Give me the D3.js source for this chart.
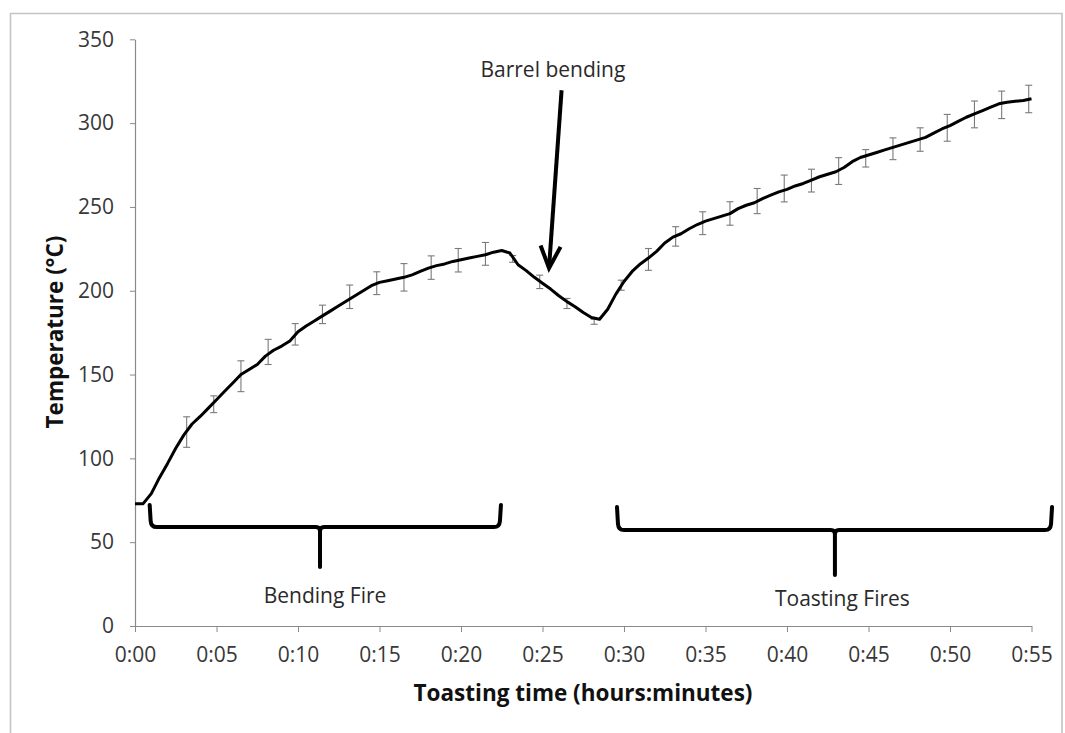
<!DOCTYPE html>
<html><head><meta charset="utf-8">
<script src="https://cdn.jsdelivr.net/npm/d3@7"></script>
<style>html,body{margin:0;padding:0;background:#fff;}</style>
</head><body>
<svg id="chart" width="1065" height="733"></svg>
<script>
// ---- data (time in minutes, temperature in °C) ----
const lineTimes = [0,0.5,1,1.5,2,2.5,3,3.5,4,4.5,5,5.5,6,6.5,7,7.5,8,8.5,9,9.5,10,10.5,11,11.5,12,12.5,13,13.5,14,14.5,15,15.5,16,16.5,17,17.5,18,18.5,19,19.5,20,20.5,21,21.5,22,22.5,23,23.5,24,24.5,25,25.5,26,26.5,27,27.5,28,28.5,29,29.5,30,30.5,31,31.5,32,32.5,33,33.5,34,34.5,35,35.5,36,36.5,37,37.5,38,38.5,39,39.5,40,40.5,41,41.5,42,42.5,43,43.5,44,44.5,45,45.5,46,46.5,47,47.5,48,48.5,49,49.5,50,50.5,51,51.5,52,52.5,53,53.5,54,54.5,55];
const lineTemps = [73,73,79,88.5,97,106,114,120.5,125,130,135,140,145,150,153,156,161,164.5,167,170,175.5,179,182,185,188,191,194,197,200,203,205,206,207,208,209.5,211.5,213.5,215,216,217.5,218.5,219.5,220.5,221.5,223,224,222.5,215.5,212,208,204.5,201,197,193.5,190.5,187,184,183,189,198,205.5,211.5,216,219.5,223.5,228.5,232,234,237,239.5,241.5,243,244.5,246,249,251,252.5,255,257,259,260.5,262.5,264,266,268,269.5,271,273.5,277,279.5,281,282.5,284,285.5,287,288.5,290,291.5,294,296.5,298.5,301,303.5,305.5,307.5,309.5,311.5,312.5,313,313.5,314.5];

const errTimes = [3.17,4.83,6.5,8.17,9.83,11.5,13.17,14.83,16.5,18.17,19.83,21.5,23.17,24.83,26.5,28.17,29.83,31.5,33.17,34.83,36.5,38.17,39.83,41.5,43.17,44.83,46.5,48.17,49.83,51.5,53.17,54.83];
const errMeans = [115.7,132.3,149,163.5,174,185.9,196.4,204.5,208,213.8,218.2,222,219,205.3,192.4,181.5,203.3,218.7,232.4,240.3,246.1,253.5,261,265.7,271.4,279,284.7,290.2,297.2,305.2,310.9,314.4];
const errSD = [9.1,5,9.2,7.5,6.4,5.5,7,6.8,8.2,7,7,6.8,2,4,3,1.5,3,6.5,5.8,6.8,7,7.5,8,6.8,8,5.2,6.5,7,8,8,8.2,8.2];

const xTickValues = [0,5,10,15,20,25,30,35,40,45,50,55];
const xTickLabels = ["0:00","0:05","0:10","0:15","0:20","0:25","0:30","0:35","0:40","0:45","0:50","0:55"];
const yTickValues = [0,50,100,150,200,250,300,350];

// annotations (in data units)
const bracketLabels = ["Bending Fire","Toasting Fires"];
const bracketStart = [0.9, 29.57];
const bracketEnd = [22.45, 56.26];
const bracketMid = [11.35, 42.94];
const bracketTop = [72.2, 71];
const bracketLevel = [59, 57.2];
const bracketStem = [35.2, 30.4];
const bracketTextX = [11.66, 43.4];
const bracketTextY = [13.7, 11.9];
const arrowLabel = "Barrel bending";
const arrowFrom = [26.17, 319.6];
const arrowTo = [25.4, 213.5];
const arrowLabelPos = [25.64, 327.4];

// ---- drawing ----
const svg = d3.select("#chart");
svg.append("rect").attr("width",1065).attr("height",733).attr("fill","#fff");
const FONT = "'Open Sans', 'Liberation Sans', sans-serif";

// outer chart border
svg.append("path")
  .attr("d","M10.5,733 L10.5,13.5 L1062,13.5 L1062,733")
  .attr("fill","none").attr("stroke","#c4c4c4").attr("stroke-width",1.6);

const x = d3.scaleLinear().domain([0,55]).range([135,1031.5]);
const y = d3.scaleLinear().domain([0,350]).range([626,39.3]);

// y axis
const yAxis = svg.append("g").attr("transform","translate(135,0)")
  .call(d3.axisLeft(y).tickValues(yTickValues).tickSize(5).tickSizeOuter(0).tickPadding(16));
// x axis
const xAxis = svg.append("g").attr("transform","translate(0,626)")
  .call(d3.axisBottom(x).tickValues(xTickValues).tickSize(6).tickSizeOuter(0).tickPadding(15)
    .tickFormat((d,i)=>xTickLabels[i]));
[xAxis,yAxis].forEach(g=>{
  g.select(".domain").attr("stroke","#8a8a8a").attr("stroke-width",1.2);
  g.selectAll(".tick line").attr("stroke","#8a8a8a").attr("stroke-width",1);
  g.selectAll(".tick text").attr("font-family",FONT).attr("font-size",21).attr("fill","#383838");
});

// error bars
const eb = svg.append("g").attr("stroke","#7a7a7a").attr("stroke-width",1.1).attr("fill","none");
errTimes.forEach((t,i)=>{
  const cx = x(t), y1 = y(errMeans[i]-errSD[i]), y2 = y(errMeans[i]+errSD[i]);
  eb.append("line").attr("x1",cx).attr("x2",cx).attr("y1",y1).attr("y2",y2);
  eb.append("line").attr("x1",cx-3.5).attr("x2",cx+3.5).attr("y1",y1).attr("y2",y1);
  eb.append("line").attr("x1",cx-3.5).attr("x2",cx+3.5).attr("y1",y2).attr("y2",y2);
});

// main line
const pts = lineTimes.map((t,i)=>[t,lineTemps[i]]);
svg.append("path").datum(pts)
  .attr("d", d3.line().x(d=>x(d[0])).y(d=>y(d[1])))
  .attr("fill","none").attr("stroke","#000").attr("stroke-width",3).attr("stroke-linejoin","round");

// brackets
bracketLabels.forEach((lab,i)=>{
  const x0 = x(bracketStart[i]), x1 = x(bracketEnd[i]), xm = x(bracketMid[i]);
  const yt = y(bracketTop[i]), yh = y(bracketLevel[i]), yb = y(bracketStem[i]);
  const r = 6, r2 = 4;
  const d = `M${x0},${yt} L${x0+1},${yh-r} Q${x0+1.5},${yh} ${x0+r+1},${yh} L${xm-r2},${yh} Q${xm},${yh} ${xm},${yh+r2} L${xm},${yb}`
          + ` M${xm},${yh+r2} Q${xm},${yh} ${xm+r2},${yh} L${x1-r-1},${yh} Q${x1-1.5},${yh} ${x1-1},${yh-r} L${x1},${yt}`;
  svg.append("path").attr("d",d).attr("fill","none").attr("stroke","#000")
    .attr("stroke-width",4).attr("stroke-linecap","round").attr("stroke-linejoin","round");
  svg.append("text").attr("x",x(bracketTextX[i])).attr("y",y(bracketTextY[i]))
    .attr("text-anchor","middle").attr("font-family",FONT).attr("font-size",21)
    .attr("fill","#2a2a2a").text(lab);
});

// arrow annotation
const ax0 = x(arrowFrom[0]), ay0 = y(arrowFrom[1]), ax1 = x(arrowTo[0]), ay1 = y(arrowTo[1]);
const ang = Math.atan2(ay1-ay0, ax1-ax0);
const hl = 22, hw = 10;
const bx = ax1 - hl*Math.cos(ang), by = ay1 - hl*Math.sin(ang);
svg.append("line").attr("x1",ax0).attr("y1",ay0).attr("x2",ax1-2*Math.cos(ang)).attr("y2",ay1-2*Math.sin(ang))
  .attr("stroke","#000").attr("stroke-width",4);
svg.append("path")
  .attr("d",`M${bx - hw*Math.sin(ang)},${by + hw*Math.cos(ang)} L${ax1},${ay1} L${bx + hw*Math.sin(ang)},${by - hw*Math.cos(ang)}`)
  .attr("fill","none").attr("stroke","#000").attr("stroke-width",4).attr("stroke-linejoin","miter");
svg.append("text").attr("x",x(arrowLabelPos[0])).attr("y",y(arrowLabelPos[1]))
  .attr("text-anchor","middle").attr("font-family",FONT).attr("font-size",21)
  .attr("fill","#2a2a2a").text(arrowLabel);

// axis titles
svg.append("text").attr("x",583).attr("y",701).attr("text-anchor","middle")
  .attr("font-family",FONT).attr("font-weight","bold").attr("font-size",22.5).attr("fill","#111")
  .text("Toasting time (hours:minutes)");
svg.append("text").attr("transform","translate(63,332) rotate(-90)").attr("text-anchor","middle")
  .attr("font-family",FONT).attr("font-weight","bold").attr("font-size",22.5).attr("fill","#111")
  .text("Temperature (°C)");
</script>
</body></html>
